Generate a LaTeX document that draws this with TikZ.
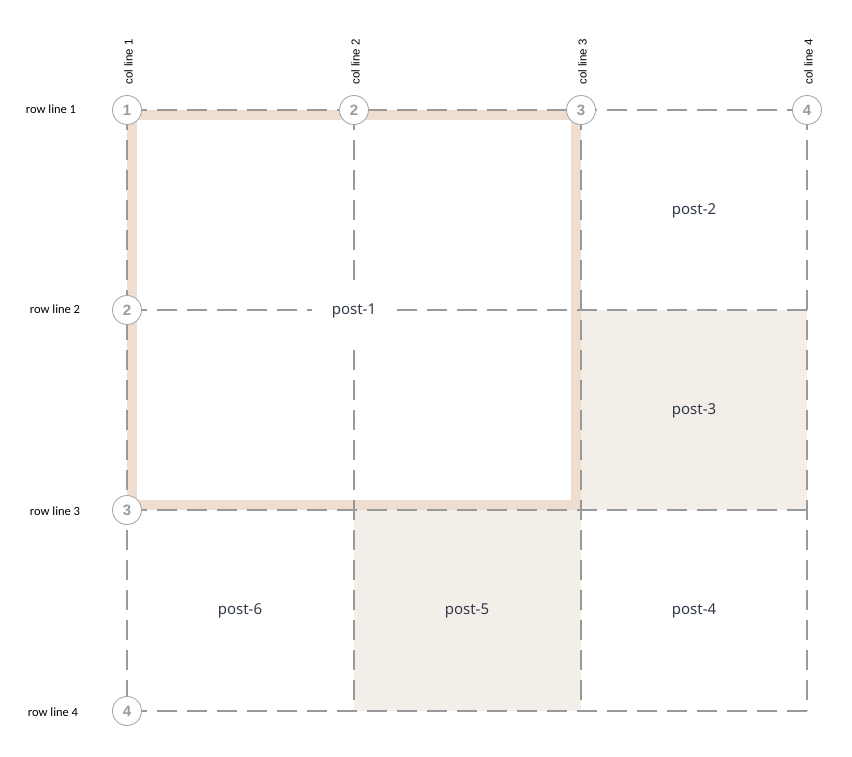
\documentclass[tikz,border=0pt]{standalone}
\usepackage{fontspec}
\setmainfont{Noto Sans}
\newfontfamily\rowfont{Carlito}
\newfontfamily\colfont{Liberation Sans}
\definecolor{gridgray}{HTML}{999999}
\definecolor{circgray}{HTML}{AAAAAA}
\definecolor{numgray}{HTML}{9A9A9A}
\definecolor{bandcol}{HTML}{EFDDD0}
\definecolor{fillcol}{HTML}{F3EEE8}
\definecolor{posttext}{HTML}{333A4A}
\tikzset{
  gridline/.style={draw=gridgray, line width=1.2pt, dash pattern=on 20pt off 10pt},
  numcirc/.style={circle, draw=circgray, line width=0.9pt, fill=white, minimum size=29pt, inner sep=0pt,
    font=\colfont\bfseries\fontsize{15}{15}\selectfont, text=numgray},
  postlabel/.style={font=\fontsize{15}{18}\selectfont, text=posttext, inner sep=0pt},
  rowlabel/.style={font=\rowfont\fontsize{12.5}{14}\selectfont, text=black, inner sep=0pt},
  collabel/.style={font=\colfont\fontsize{11.5}{13}\selectfont, text=black, inner sep=0pt, rotate=90},
  bandline/.style={draw=bandcol, line width=10pt},
  cellfill/.style={fill=fillcol, draw=none}
}
\begin{document}
\begin{tikzpicture}[x=1pt,y=-1pt]
\useasboundingbox (0,0) rectangle (852,757);
% grid coordinates
\coordinate (g11) at (127,110); \coordinate (g12) at (354,110); \coordinate (g13) at (581,110); \coordinate (g14) at (807,110);
\coordinate (g21) at (127,310); \coordinate (g24) at (807,310);
\coordinate (g31) at (127,510); \coordinate (g34) at (807,510);
\coordinate (g41) at (127,711); \coordinate (g42) at (354,711); \coordinate (g43) at (581,711); \coordinate (g44) at (807,711);
% filled cells
\path[cellfill] (581,310) rectangle (807,510);
\path[cellfill] (354,510) rectangle (581,711);
% post-1 border
\draw[bandline] (132,115) rectangle (576,505);
% grid lines
\draw[gridline] (g11) -- (g14);
\draw[gridline] (g21) -- (g24);
\draw[gridline] (g31) -- (g34);
\draw[gridline] (g41) -- (g44);
\draw[gridline] (g11) -- (g41);
\draw[gridline] (g12) -- (g42);
\draw[gridline] (g13) -- (g43);
\draw[gridline] (g14) -- (g44);
% post labels
\node[postlabel, fill=white, inner xsep=20pt, minimum height=58pt] (p1) at (354,311) {post-1};
\node[postlabel] (p2) at (694,211) {post-2};
\node[postlabel] (p3) at (694,411) {post-3};
\node[postlabel] (p4) at (694,611) {post-4};
\node[postlabel] (p5) at (467,611) {post-5};
\node[postlabel] (p6) at (240,611) {post-6};
% circles
\node[numcirc] (t1) at (g11) {1};
\node[numcirc] (t2) at (g12) {2};
\node[numcirc] (t3) at (g13) {3};
\node[numcirc] (t4) at (g14) {4};
\node[numcirc] (l2) at (g21) {2};
\node[numcirc] (l3) at (g31) {3};
\node[numcirc] (l4) at (g41) {4};
% row labels
\node[rowlabel] (rl1) at (51,109) {row line 1};
\node[rowlabel] (rl2) at (55,309) {row line 2};
\node[rowlabel] (rl3) at (55,511) {row line 3};
\node[rowlabel] (rl4) at (53,712) {row line 4};
% col labels
\node[collabel] (cl1) at (128.5,62) {col line 1};
\node[collabel] (cl2) at (355.5,62) {col line 2};
\node[collabel] (cl3) at (582.5,62) {col line 3};
\node[collabel] (cl4) at (808.5,62) {col line 4};
\end{tikzpicture}
\end{document}
